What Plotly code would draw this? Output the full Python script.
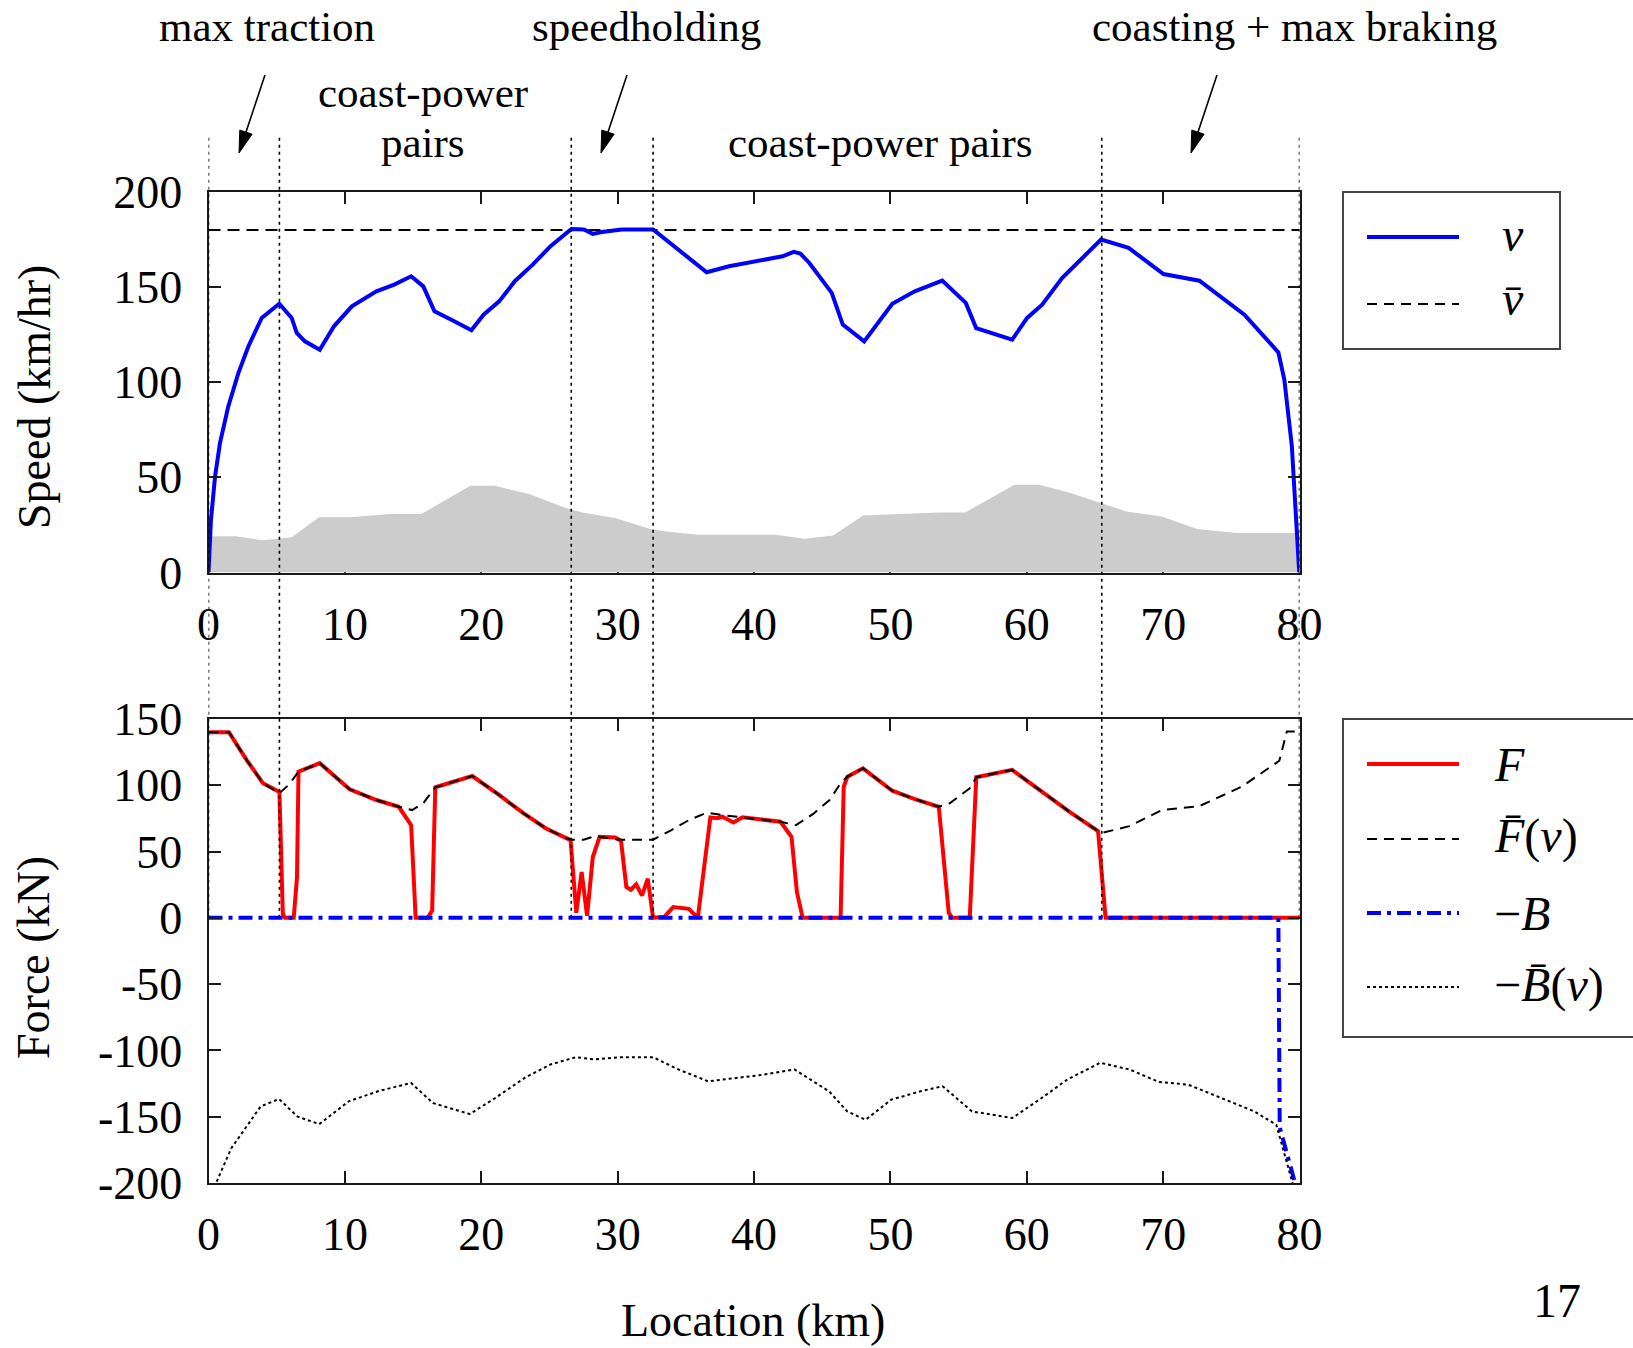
import plotly.graph_objects as go
import math

# ---------------- data ----------------
# speed profile (km, km/h)
v_x = [0, 0.18, 0.48, 0.84, 1.45, 2.19, 2.92, 3.9, 5.19, 6.1, 6.47, 7.07, 8.16, 9.2, 10.51, 12.31,
       13.62, 14.86, 15.75, 16.57, 17.88, 19.28, 20.17, 21.31, 22.46, 23.77, 25.08, 26.61, 27.53,
       28.18, 28.84, 30.31, 32.6, 33.91, 35.55, 36.53, 38.17, 40.46, 42.1, 42.91, 43.4, 44.06, 45.7,
       46.51, 48.08, 50.14, 51.79, 53.8, 55.53, 56.29, 58.93, 60.03, 61.13, 62.59, 64.06, 65.45,
       67.47, 70.03, 72.66, 75.96, 78.45, 78.89, 79.44, 79.98]
v_y = [0, 27.6, 50.4, 68, 87.3, 104.8, 118.8, 133.8, 141.3, 133.8, 125.9, 121.5, 117.1, 129.4, 139.9,
       147.8, 151.3, 155.7, 150.4, 137.3, 132.6, 127.3, 135.5, 142.5, 153.1, 161.8, 171.5, 180.6,
       180.3, 178, 179, 180.3, 180.3, 172.7, 163.6, 157.8, 161, 163.9, 166.2, 168.5, 167.6, 162.7,
       147, 130.3, 121.5, 141.3, 147.8, 153.4, 141.7, 128.5, 122.4, 133.8, 140.8, 154.8, 165.4,
       175, 170.6, 156.9, 153.4, 135.5, 115.7, 101.3, 66.3, 0]
v_limit = 180
route_x = [0, 80]

# gradient / altitude profile (grey area)
grade_x = [0, 2.0, 4.0, 6.1, 8.1, 10.4, 13.3, 15.6, 19.2, 21.0, 23.5, 26.1, 27.4, 29.8, 32.4, 33.6,
           35.9, 41.6, 43.7, 45.8, 48.0, 53.6, 55.5, 59.1, 60.9, 63.1, 67.3, 69.9, 72.5, 75.4, 80]
grade_y = [19, 19, 17, 18.5, 29, 29, 30.7, 30.7, 45.6, 45.6, 41.3, 34.2, 31.6, 28.7, 22.9, 21.6,
           19.9, 19.9, 17.8, 19.4, 29.9, 31.6, 31.6, 46.1, 46.1, 42.1, 32.1, 29.5, 22.9, 20.8, 20.8]

# traction force F (kN)
F_x = [0, 1.5, 2.8, 4.0, 5.2, 5.45, 5.6, 6.25, 6.49, 6.6, 8.16, 10.35, 12.31, 13.95, 14.86, 15.19,
       16.07, 16.4, 16.63, 19.34, 21.31, 23.11, 24.75, 26.32, 26.55, 26.97, 27.36, 27.76, 28.18,
       28.68, 29.82, 30.25, 30.64, 30.97, 31.36, 31.79, 32.21, 32.6, 33.42, 34.08, 35.22, 35.88,
       36.8, 37.3, 37.68, 38.01, 38.5, 39.15, 41.94, 42.75, 43.15, 43.57, 46.35, 46.58, 46.85,
       47.99, 50.14, 51.79, 53.55, 54.28, 54.54, 55.82, 56.3, 58.93, 61.13, 63.14, 65.23, 65.78, 80]
F_y = [140, 140, 119, 101.5, 95, 3, 0, 0, 31, 110.3, 116.7, 97, 88.9, 83.8, 70, 0,
       0, 5.5, 98.5, 107, 92.7, 78.8, 67.4, 59.8, 58.6, 3.8, 34.6, 1.6, 45.9,
       61.1, 60.6, 58.1, 23.2, 21.2, 25.3, 16.9, 29.5, 0, 0.8, 8.1, 6.8, 0,
       75.8, 75.2, 76.3, 74.5, 71.9, 75.8, 72.5, 61.1, 19.2, 0, 0, 98.9, 106.5,
       112.8, 95.9, 89.6, 83.8, 3.8, 0, 0, 106.1, 111.6, 95.2, 80, 65.4, 0, 0]

# max traction force Fbar(v)
Fbar_x = [0, 1.5, 2.8, 4.0, 5.2, 5.9, 6.6, 8.16, 10.35, 12.31, 13.95, 14.93, 15.75, 16.63, 19.34,
          21.31, 23.11, 24.75, 26.32, 26.6, 27.5, 28.35, 30.15, 32.6, 33.91, 35.22, 36.53, 37.68,
          39.15, 41.94, 43.08, 44.39, 45.54, 46.35, 46.85, 48.0, 50.14, 51.79, 53.55, 54.35, 55.82,
          56.3, 58.93, 61.13, 63.14, 65.23, 65.52, 67.53, 69.91, 72.66, 75.77, 78.52, 79.07, 80]
Fbar_y = [140, 140, 119, 101.5, 94, 100.5, 110.3, 116.7, 97, 88.9, 83.8, 81.3, 86.4, 98.5, 107,
          92.7, 78.8, 67.4, 59.8, 59, 59, 61.6, 59, 59, 66, 73.7, 79.3, 77.5,
          75.8, 72.5, 69.9, 78.8, 88.9, 101.5, 106.5, 112.8, 95.9, 89.6, 83.8, 86.4, 97.8,
          106.1, 111.6, 95.2, 80, 65.4, 64.1, 69.2, 81.3, 84.3, 99, 118.5, 140.6, 140.6]

# braking force -B (kN)
B_x = [0, 78.45, 78.55, 79.7]
B_y = [0, 0, -158, -201]

# max braking force -Bbar(v)
Bbar_x = [0.6, 1.67, 3.83, 5.17, 6.51, 8.12, 10.28, 12.43, 14.85, 16.46, 19.15, 21.03, 23.18, 25.07,
          26.94, 28.29, 30.17, 32.59, 34.47, 36.63, 40.39, 42.97, 45.5, 46.84, 48.18, 50.07, 52.21,
          53.83, 55.98, 58.94, 61.09, 62.97, 65.39, 67.54, 69.69, 71.84, 74.26, 76.68, 78.3, 79.53]
Bbar_y = [-199, -173.8, -142.2, -136.6, -149.8, -155.6, -138.4, -130.8, -124.5, -139.7, -148, -135.9,
          -120.7, -110.6, -105.1, -106.8, -105.1, -105.1, -114.4, -123.3, -118.7, -114.4, -130.8,
          -146, -152.3, -137.1, -130.8, -127, -146, -151, -135.9, -122, -109.3, -114.4, -123.8,
          -125.8, -135.9, -146, -156.1, -201.5]

# phase boundaries (km)
phase_x = [0, 5.2, 26.6, 32.6, 65.5, 80]

# ticks
x_ticks = [0, 10, 20, 30, 40, 50, 60, 70, 80]
speed_ticks = [0, 50, 100, 150, 200]
force_ticks = [150, 100, 50, 0, -50, -100, -150, -200]
force_tick_text = ["150", "100", "50", "0", "-50", "-100", "-150", "-200"]

# ---------------- layout helpers ----------------
W, H = 1633, 1348
def px(x):
    return x / W
def py(y):
    return 1 - y / H

SERIF = "Liberation Serif, Times New Roman, serif"
AX = "#1a1a1a"
X_DOM = [px(208.5), px(1299.5)]
Y1_DOM = [py(572.5), py(192)]
Y2_DOM = [py(1183), py(719)]
F_RANGE = [-200, 150]

fig = go.Figure()

fig.add_trace(go.Scatter(x=grade_x, y=grade_y, mode="lines", fill="tozeroy",
                         fillcolor="#cccccc", line=dict(width=0, color="#cccccc"),
                         xaxis="x", yaxis="y", hoverinfo="skip"))
fig.add_trace(go.Scatter(x=route_x, y=[v_limit, v_limit], mode="lines",
                         line=dict(color="black", width=2, dash="12px,7px"), xaxis="x", yaxis="y"))
fig.add_trace(go.Scatter(x=v_x, y=v_y, mode="lines",
                         line=dict(color="#0000ff", width=4), xaxis="x", yaxis="y"))

fig.add_trace(go.Scatter(x=F_x, y=F_y, mode="lines",
                         line=dict(color="#ff0000", width=4), xaxis="x2", yaxis="y2"))
fig.add_trace(go.Scatter(x=Fbar_x, y=Fbar_y, mode="lines",
                         line=dict(color="black", width=2, dash="10px,7px"), xaxis="x2", yaxis="y2"))
fig.add_trace(go.Scatter(x=B_x, y=B_y, mode="lines",
                         line=dict(color="#0000ff", width=4, dash="14px,6px,4px,6px"),
                         xaxis="x2", yaxis="y2"))
fig.add_trace(go.Scatter(x=Bbar_x, y=Bbar_y, mode="lines",
                         line=dict(color="black", width=2, dash="3px,3px"), xaxis="x2", yaxis="y2"))

axis_common = dict(showline=True, linecolor=AX, linewidth=2, mirror="ticks", ticks="inside",
                   ticklen=12, tickwidth=2, tickcolor=AX, showgrid=False, zeroline=False,
                   automargin=False,
                   tickfont=dict(family=SERIF, size=46, color="black"))

fig.update_layout(
    width=W, height=H, autosize=False,
    margin=dict(l=0, r=0, t=0, b=0, pad=0, autoexpand=False),
    paper_bgcolor="white", plot_bgcolor="white", showlegend=False,
    xaxis=dict(domain=X_DOM, range=[0, 80], anchor="y", tickvals=x_ticks,
               layer="below traces", ticklabelstandoff=10, **axis_common),
    yaxis=dict(domain=Y1_DOM, range=[0, 200], anchor="x", tickvals=speed_ticks,
               ticklabelstandoff=15, **axis_common),
    xaxis2=dict(domain=X_DOM, range=[0, 80], anchor="y2", tickvals=x_ticks,
                ticklabelstandoff=10, **axis_common),
    yaxis2=dict(domain=Y2_DOM, range=F_RANGE, anchor="x2", tickvals=force_ticks,
                ticktext=force_tick_text, ticklabelstandoff=15, **axis_common),
)

shapes = []
annotations = []

# phase boundary dotted lines: from above the top plot down to F = 0 in the force plot
f0_paper = Y2_DOM[0] + (0 - F_RANGE[0]) / (F_RANGE[1] - F_RANGE[0]) * (Y2_DOM[1] - Y2_DOM[0])
for xv in phase_x:
    shapes.append(dict(type="line", xref="x", yref="paper", x0=xv, x1=xv, y0=f0_paper, y1=py(137),
                       line=dict(color="black", width=1.6, dash="3px,4px"), layer="above"))

# arrows
def arrow(tail, head):
    dx, dy = head[0] - tail[0], head[1] - tail[1]
    L = math.hypot(dx, dy)
    ux, uy = dx / L, dy / L
    hl, hw = 22, 6.5
    bx, by = head[0] - ux * hl, head[1] - uy * hl
    shapes.append(dict(type="line", xref="paper", yref="paper", x0=px(tail[0]), y0=py(tail[1]),
                       x1=px(bx), y1=py(by), line=dict(color="black", width=1.6)))
    p1 = (bx - uy * hw, by + ux * hw)
    p2 = (bx + uy * hw, by - ux * hw)
    path = "M {} {} L {} {} L {} {} Z".format(px(head[0]), py(head[1]), px(p1[0]), py(p1[1]),
                                               px(p2[0]), py(p2[1]))
    shapes.append(dict(type="path", xref="paper", yref="paper", path=path,
                       fillcolor="black", line=dict(color="black", width=1)))

arrow((265, 75), (239, 153))
arrow((627, 75), (601, 153))
arrow((1217, 75), (1191, 153))

def text(x, y, s, size=43, angle=0, xanchor="center"):
    annotations.append(dict(xref="paper", yref="paper", x=px(x), y=py(y), text=s, showarrow=False,
                            xanchor=xanchor, yanchor="middle", textangle=angle,
                            font=dict(family=SERIF, size=size, color="black")))

text(267, 26, "max traction")
text(646, 26, "speedholding")
text(1294, 26, "coasting + max braking")
text(423, 92, "coast-power")
text(423, 143, "pairs")
text(880, 143, "coast-power pairs")

text(34, 397, "Speed (km/hr)", size=46, angle=-90)
text(34, 958, "Force (kN)", size=46, angle=-90)
text(753, 1320, "Location (km)", size=46)
text(1557, 1300, "17", size=48)

# legend 1
shapes.append(dict(type="rect", xref="paper", yref="paper", x0=px(1343), x1=px(1560),
                   y0=py(349), y1=py(192), line=dict(color="#444444", width=2)))
shapes.append(dict(type="line", xref="paper", yref="paper", x0=px(1367), x1=px(1459),
                   y0=py(237), y1=py(237), line=dict(color="#0000ff", width=4)))
shapes.append(dict(type="line", xref="paper", yref="paper", x0=px(1367), x1=px(1459),
                   y0=py(304), y1=py(304), line=dict(color="black", width=2, dash="10px,7px")))
text(1513, 234, "<i>v</i>", size=48)
text(1513, 298, "<i>v\u0304</i>", size=48)

# legend 2
shapes.append(dict(type="rect", xref="paper", yref="paper", x0=px(1343), x1=px(1700),
                   y0=py(1037), y1=py(719), line=dict(color="#444444", width=2)))
leg2 = [(764, dict(color="#ff0000", width=4)),
        (839, dict(color="black", width=2, dash="10px,7px")),
        (913, dict(color="#0000ff", width=4, dash="14px,6px,4px,6px")),
        (987, dict(color="black", width=2, dash="3px,3px"))]
for yy, ln in leg2:
    shapes.append(dict(type="line", xref="paper", yref="paper", x0=px(1367), x1=px(1459),
                       y0=py(yy), y1=py(yy), line=ln))
text(1492, 764, "<i>F</i>", size=48, xanchor="left")
text(1492, 836, "<i>F\u0304</i>(<i>v</i>)", size=48, xanchor="left")
text(1492, 913, "\u2212<i>B</i>", size=48, xanchor="left")
text(1492, 985, "\u2212<i>B\u0304</i>(<i>v</i>)", size=48, xanchor="left")

fig.update_layout(shapes=shapes, annotations=annotations)
fig.write_html("out.html")
